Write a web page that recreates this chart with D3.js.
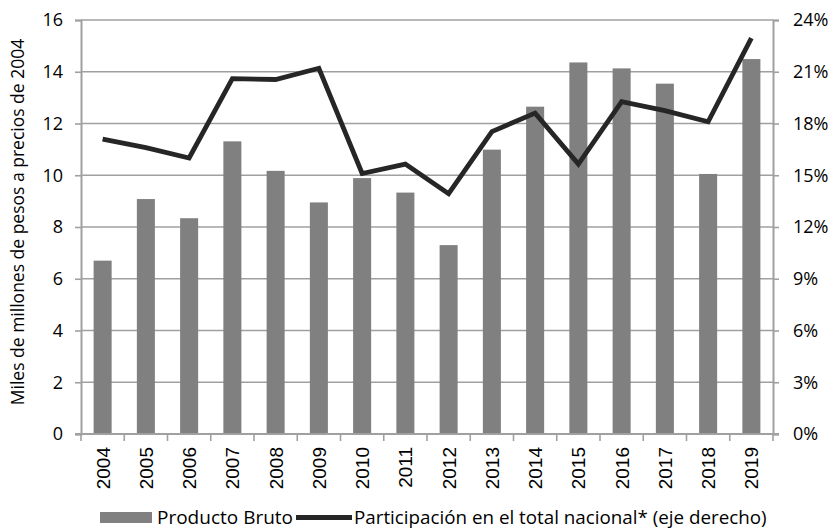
<!DOCTYPE html>
<html><head><meta charset="utf-8">
<script src="https://cdn.jsdelivr.net/npm/d3@7"></script>
<style>body{margin:0;background:#fff}svg{display:block}</style>
</head><body>
<svg id="c" width="833" height="529"></svg>
<script>
const years = ["2004","2005","2006","2007","2008","2009","2010","2011","2012","2013","2014","2015","2016","2017","2018","2019"];
const productoBruto = [6.70,9.08,8.34,11.31,10.17,8.95,9.89,9.33,7.30,10.99,12.65,14.36,14.13,13.54,10.05,14.49];
const participacion = [17.1,16.6,16.0,20.6,20.55,21.2,15.1,15.65,13.93,17.53,18.6,15.65,19.27,18.75,18.1,22.95];
const leftTicks = [0,2,4,6,8,10,12,14,16];
const rightTicks = [0,3,6,9,12,15,18,21,24];
const yTitle = "Miles de millones de pesos a precios de 2004";
const legendLabels = ["Producto Bruto","Participación en el total nacional* (eje derecho)"];

const svg = d3.select("#c");
const L = 81, R = 773, T = 20, B = 434;
const font = "'Open Sans', sans-serif";
const axisGray = "#A0A0A0";

const x = d3.scaleBand().domain(years).range([L, R]).paddingInner(0.583).paddingOuter(0.2915);
const y = d3.scaleLinear().domain([0,16]).range([B, T]);
const y2 = d3.scaleLinear().domain([0,24]).range([B, T]);

// gridlines
svg.append("g").selectAll("line").data(leftTicks.filter(d=>d>0)).join("line")
  .attr("x1", L).attr("x2", R).attr("y1", d=>y(d)).attr("y2", d=>y(d))
  .attr("stroke", axisGray).attr("stroke-width", 1.6);

// left axis
const gl = svg.append("g").attr("transform", `translate(${L},0)`)
  .call(d3.axisLeft(y).tickValues(leftTicks).tickSize(6).tickPadding(12).tickFormat(d3.format("d")));
gl.select(".domain").attr("stroke", axisGray).attr("stroke-width", 2);
gl.selectAll(".tick line").attr("stroke", axisGray).attr("stroke-width", 1.6);
gl.selectAll("text").attr("font-family", font).attr("font-size", 18).attr("fill", "#000");

// right axis
const gr = svg.append("g").attr("transform", `translate(${R},0)`)
  .call(d3.axisRight(y2).tickValues(rightTicks).tickSize(6).tickPadding(14).tickFormat(d=>d+"%"));
gr.select(".domain").attr("stroke", axisGray).attr("stroke-width", 2);
gr.selectAll(".tick line").attr("stroke", axisGray).attr("stroke-width", 1.6);
gr.selectAll("text").attr("font-family", font).attr("font-size", 18).attr("fill", "#000");

// bars
svg.append("g").selectAll("rect").data(years).join("rect")
  .attr("x", d=>x(d)).attr("width", x.bandwidth())
  .attr("y", (d,i)=>y(productoBruto[i])).attr("height", (d,i)=>B - y(productoBruto[i]))
  .attr("fill", "#808080");

// bottom axis line and ticks
const gb = svg.append("g");
gb.append("line").attr("x1", L-6).attr("x2", R+6).attr("y1", B).attr("y2", B)
  .attr("stroke", axisGray).attr("stroke-width", 2);
const bounds = years.map(d=>x(d) - x.step()*x.paddingInner()/2).concat([R]);
gb.selectAll("line.t").data(bounds).join("line").attr("class","t")
  .attr("x1", d=>d).attr("x2", d=>d).attr("y1", B).attr("y2", B+7)
  .attr("stroke", axisGray).attr("stroke-width", 1.6);
gb.selectAll("text").data(years).join("text")
  .attr("transform", d=>`translate(${x(d)+x.bandwidth()/2+7},${B+13}) rotate(-90)`)
  .attr("text-anchor", "end")
  .attr("font-family", "'Liberation Sans', Arial, sans-serif").attr("font-size", 19)
  .text(d=>d);

// line
const line = d3.line().x((d,i)=>x(years[i])+x.bandwidth()/2).y(d=>y2(d));
svg.append("path").datum(participacion).attr("d", line)
  .attr("fill", "none").attr("stroke", "#262626").attr("stroke-width", 4.8)
  .attr("stroke-linejoin", "miter");

// y title
svg.append("text").attr("transform", `translate(24,${(T+B)/2 - 5}) rotate(-90)`)
  .attr("text-anchor", "middle").attr("font-family", font).attr("font-size", 17.5)
  .text(yTitle);

// legend
const lg = svg.append("g");
lg.append("rect").attr("x", 100).attr("y", 512).attr("width", 52).attr("height", 11).attr("fill", "#808080");
lg.append("text").attr("x", 157).attr("y", 524).attr("font-family", font).attr("font-size", 19).text(legendLabels[0]);
lg.append("line").attr("x1", 296).attr("x2", 352).attr("y1", 517.5).attr("y2", 517.5)
  .attr("stroke", "#262626").attr("stroke-width", 4.8);
lg.append("text").attr("x", 354).attr("y", 524).attr("font-family", font).attr("font-size", 18.8).text(legendLabels[1]);
</script>
</body></html>
